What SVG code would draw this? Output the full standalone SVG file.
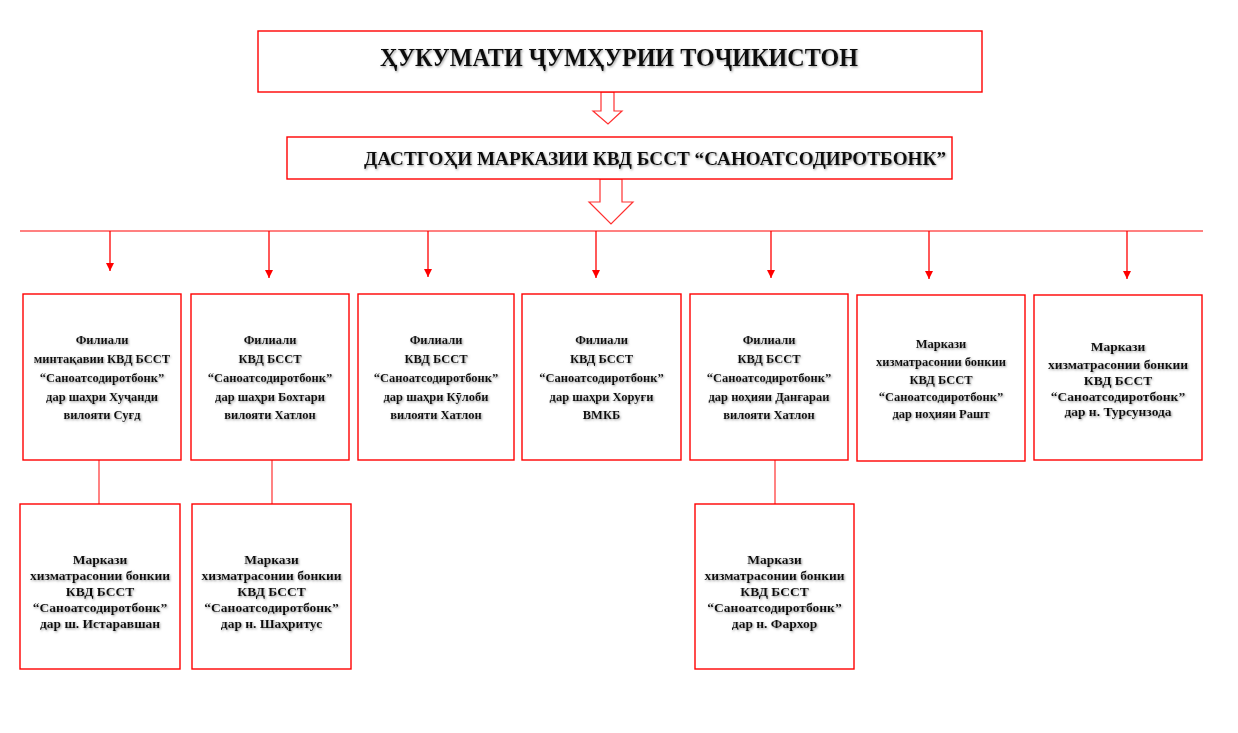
<svg xmlns="http://www.w3.org/2000/svg" width="1238" height="733" viewBox="0 0 1238 733">
<defs>
<filter id="sh" x="-10%" y="-20%" width="120%" height="150%">
<feDropShadow dx="1" dy="1.2" stdDeviation="0.8" flood-color="#777" flood-opacity="0.7"/>
</filter>
<marker id="ah" viewBox="0 0 8 8" refX="8" refY="4" markerWidth="8" markerHeight="8" markerUnits="userSpaceOnUse" orient="auto">
<path d="M0,0 L8,4 L0,8 Z" fill="#ff0000"/>
</marker>
</defs>
<style>
.box{fill:#fff;stroke:#ff0000;stroke-width:1.4}
.t{font-family:"Liberation Serif","Times New Roman",serif;font-weight:bold;fill:#111;text-anchor:middle;filter:url(#sh)}
.s{font-size:12.5px}
.m{font-size:13.5px}
.v{stroke:#ff0000;stroke-width:1.3;fill:none;marker-end:url(#ah)}
.c{stroke:#ff3030;stroke-width:1.2;fill:none}
.blk{fill:#fff;stroke:#ff3030;stroke-width:1.2}
</style>
<rect width="1238" height="733" fill="#fff"/>
<g id="connectors">
<polygon class="blk" points="601,92 614,92 614,111 622,111 608,124 593,111 601,111"/>
<polygon class="blk" points="600,179 622,179 622,202 633,202 611,224 589,202 600,202"/>
<line x1="20" y1="231" x2="1203" y2="231" stroke="#ff8080" stroke-width="2"/>
<line class="v" x1="110" y1="231" x2="110" y2="271"/>
<line class="v" x1="269" y1="231" x2="269" y2="278"/>
<line class="v" x1="428" y1="231" x2="428" y2="277"/>
<line class="v" x1="596" y1="231" x2="596" y2="278"/>
<line class="v" x1="771" y1="231" x2="771" y2="278"/>
<line class="v" x1="929" y1="231" x2="929" y2="279"/>
<line class="v" x1="1127" y1="231" x2="1127" y2="279" stroke="#ff7070"/>
<line class="c" x1="99" y1="460" x2="99" y2="504"/>
<line class="c" x1="272" y1="460" x2="272" y2="504" stroke="#ff8080"/>
<line class="c" x1="775" y1="460" x2="775" y2="504" stroke="#ff8080"/>
</g>
<g id="gov">
<rect class="box" x="258" y="31" width="724" height="61"/>
<text class="t" x="619" y="66" font-size="26" textLength="478" lengthAdjust="spacingAndGlyphs">ҲУКУМАТИ ҶУМҲУРИИ ТОҶИКИСТОН</text>
</g>
<g id="central">
<rect class="box" x="287" y="137" width="665" height="42"/>
<text class="t" x="655" y="165" font-size="18.5" textLength="582" lengthAdjust="spacingAndGlyphs">ДАСТГОҲИ МАРКАЗИИ КВД БССТ “САНОАТСОДИРОТБОНК”</text>
</g>
<g id="b1">
<rect class="box" x="23" y="294" width="158" height="166"/>
<text class="t s" x="102"><tspan x="102" y="344">Филиали</tspan><tspan x="102" y="363">минтақавии КВД БССТ</tspan><tspan x="102" y="382">“Саноатсодиротбонк”</tspan><tspan x="102" y="401">дар шаҳри Хуҷанди</tspan><tspan x="102" y="419">вилояти Суғд</tspan></text>
</g>
<g id="b2">
<rect class="box" x="191" y="294" width="158" height="166"/>
<text class="t s" x="270"><tspan x="270" y="344">Филиали</tspan><tspan x="270" y="363">КВД БССТ</tspan><tspan x="270" y="382">“Саноатсодиротбонк”</tspan><tspan x="270" y="401">дар шаҳри Бохтари</tspan><tspan x="270" y="419">вилояти Хатлон</tspan></text>
</g>
<g id="b3">
<rect class="box" x="358" y="294" width="156" height="166"/>
<text class="t s" x="436"><tspan x="436" y="344">Филиали</tspan><tspan x="436" y="363">КВД БССТ</tspan><tspan x="436" y="382">“Саноатсодиротбонк”</tspan><tspan x="436" y="401">дар шаҳри Кӯлоби</tspan><tspan x="436" y="419">вилояти Хатлон</tspan></text>
</g>
<g id="b4">
<rect class="box" x="522" y="294" width="159" height="166"/>
<text class="t s" x="601.5"><tspan x="601.5" y="344">Филиали</tspan><tspan x="601.5" y="363">КВД БССТ</tspan><tspan x="601.5" y="382">“Саноатсодиротбонк”</tspan><tspan x="601.5" y="401">дар шаҳри Хоруғи</tspan><tspan x="601.5" y="419">ВМКБ</tspan></text>
</g>
<g id="b5">
<rect class="box" x="690" y="294" width="158" height="166"/>
<text class="t s" x="769"><tspan x="769" y="344">Филиали</tspan><tspan x="769" y="363">КВД БССТ</tspan><tspan x="769" y="382">“Саноатсодиротбонк”</tspan><tspan x="769" y="401">дар ноҳияи Данғараи</tspan><tspan x="769" y="419">вилояти Хатлон</tspan></text>
</g>
<g id="b6">
<rect class="box" x="857" y="295" width="168" height="166"/>
<text class="t s" x="941"><tspan x="941" y="348">Маркази</tspan><tspan x="941" y="366">хизматрасонии бонкии</tspan><tspan x="941" y="384">КВД БССТ</tspan><tspan x="941" y="401">“Саноатсодиротбонк”</tspan><tspan x="941" y="418">дар ноҳияи Рашт</tspan></text>
</g>
<g id="b7">
<rect class="box" x="1034" y="295" width="168" height="165"/>
<text class="t m" x="1118"><tspan x="1118" y="351">Маркази</tspan><tspan x="1118" y="369">хизматрасонии бонкии</tspan><tspan x="1118" y="385">КВД БССТ</tspan><tspan x="1118" y="401">“Саноатсодиротбонк”</tspan><tspan x="1118" y="416">дар н. Турсунзода</tspan></text>
</g>
<g id="c1">
<rect class="box" x="20" y="504" width="160" height="165"/>
<text class="t m" x="100"><tspan x="100" y="564">Маркази</tspan><tspan x="100" y="580">хизматрасонии бонкии</tspan><tspan x="100" y="596">КВД БССТ</tspan><tspan x="100" y="612">“Саноатсодиротбонк”</tspan><tspan x="100" y="628">дар ш. Истаравшан</tspan></text>
</g>
<g id="c2">
<rect class="box" x="192" y="504" width="159" height="165"/>
<text class="t m" x="271.5"><tspan x="271.5" y="564">Маркази</tspan><tspan x="271.5" y="580">хизматрасонии бонкии</tspan><tspan x="271.5" y="596">КВД БССТ</tspan><tspan x="271.5" y="612">“Саноатсодиротбонк”</tspan><tspan x="271.5" y="628">дар н. Шаҳритус</tspan></text>
</g>
<g id="c3">
<rect class="box" x="695" y="504" width="159" height="165"/>
<text class="t m" x="774.5"><tspan x="774.5" y="564">Маркази</tspan><tspan x="774.5" y="580">хизматрасонии бонкии</tspan><tspan x="774.5" y="596">КВД БССТ</tspan><tspan x="774.5" y="612">“Саноатсодиротбонк”</tspan><tspan x="774.5" y="628">дар н. Фархор</tspan></text>
</g>
</svg>
